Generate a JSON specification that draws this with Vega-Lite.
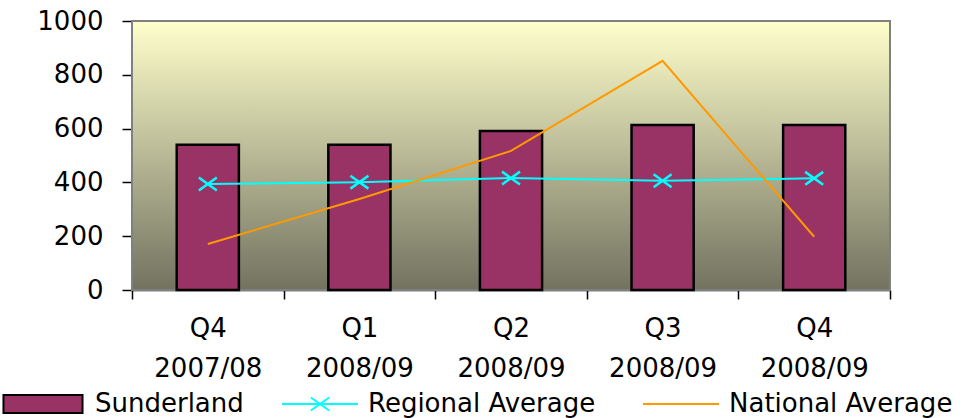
{
  "$schema": "https://vega.github.io/schema/vega-lite/v6.json",
  "autosize": {"type": "none"},
  "width": 758,
  "height": 269,
  "padding": {"left": 132, "top": 21, "right": 87, "bottom": 128},
  "background": "white",
  "config": {
    "view": {"stroke": null},
    "font": "DejaVu Sans",
    "axis": {
      "labelFont": "DejaVu Sans",
      "labelFontSize": 26,
      "labelColor": "black",
      "domainColor": "black",
      "domainWidth": 1.5,
      "tickColor": "black",
      "tickWidth": 1.5,
      "grid": false,
      "title": null,
      "zindex": 1
    },
    "legend": {
      "orient": "none",
      "direction": "horizontal",
      "title": null,
      "padding": 0,
      "symbolSize": 5776,
      "symbolStrokeWidth": 2,
      "labelFont": "DejaVu Sans",
      "labelFontSize": 26,
      "labelColor": "black",
      "labelLimit": 400,
      "legendY": 344
    }
  },
  "datasets": {
    "quarters": [
      {"quarter": "Q4 2007/08", "sunderland": 540, "regional": 394, "national": 171},
      {"quarter": "Q1 2008/09", "sunderland": 540, "regional": 401, "national": 338},
      {"quarter": "Q2 2008/09", "sunderland": 591, "regional": 416, "national": 517},
      {"quarter": "Q3 2008/09", "sunderland": 613, "regional": 406, "national": 852},
      {"quarter": "Q4 2008/09", "sunderland": 613, "regional": 415, "national": 198}
    ]
  },
  "layer": [
    {
      "data": {"values": [{"plot": "area"}]},
      "mark": {
        "type": "rect",
        "stroke": "#808080",
        "strokeWidth": 2,
        "fill": {
          "gradient": "linear",
          "x1": 0, "y1": 0, "x2": 0, "y2": 1,
          "stops": [
            {"offset": 0, "color": "#FFFFCC"},
            {"offset": 1, "color": "#727260"}
          ]
        }
      },
      "encoding": {
        "y": {"datum": 1000, "type": "quantitative"},
        "y2": {"datum": 0}
      }
    },
    {
      "data": {"name": "quarters"},
      "mark": {"type": "bar", "stroke": "black", "strokeWidth": 2.5, "width": {"band": 0.41}},
      "encoding": {
        "x": {
          "field": "quarter",
          "type": "nominal",
          "sort": null,
          "scale": {"paddingInner": 0, "paddingOuter": 0},
          "axis": {
            "labelAngle": 0,
            "labelExpr": "datum.value ? split(datum.value, ' ') : ''",
            "labelLineHeight": 40,
            "labelPadding": 16,
            "tickBand": "extent",
            "tickSize": 9,
            "labelBaseline": "top"
          }
        },
        "y": {
          "field": "sunderland",
          "type": "quantitative",
          "scale": {"domain": [0, 1000]},
          "axis": {
            "values": [0, 200, 400, 600, 800, 1000],
            "format": "d",
            "tickSize": 10,
            "labelPadding": 19
          }
        },
        "fill": {
          "datum": "Sunderland",
          "scale": {"domain": ["Sunderland"], "range": ["#993366"]},
          "legend": {
            "legendX": -128,
            "labelOffset": 13,
            "symbolType": "M-1.04,-0.24H1.04V0.24H-1.04Z",
            "symbolStrokeColor": "black",
            "symbolStrokeWidth": 2
          }
        }
      }
    },
    {
      "data": {"name": "quarters"},
      "mark": {"type": "line", "strokeWidth": 2},
      "encoding": {
        "x": {"field": "quarter", "type": "nominal", "sort": null},
        "y": {"field": "regional", "type": "quantitative"},
        "stroke": {
          "datum": "Regional Average",
          "scale": {"domain": ["Regional Average"], "range": ["#00FFFF"]},
          "legend": {
            "legendX": 149,
            "labelOffset": 9,
            "symbolType": "M-1,0H1M-0.24,-0.17L0.24,0.17M-0.24,0.17L0.24,-0.17",
            "symbolFillColor": "transparent",
            "symbolStrokeWidth": 2
          }
        }
      }
    },
    {
      "data": {"name": "quarters"},
      "mark": {
        "type": "point",
        "shape": "M-1,-0.72L1,0.72M-1,0.72L1,-0.72",
        "size": 324,
        "filled": false,
        "stroke": "#00FFFF",
        "strokeWidth": 2.5,
        "opacity": 1
      },
      "encoding": {
        "x": {"field": "quarter", "type": "nominal", "sort": null},
        "y": {"field": "regional", "type": "quantitative"}
      }
    },
    {
      "data": {"name": "quarters"},
      "mark": {"type": "line", "strokeWidth": 2},
      "encoding": {
        "x": {"field": "quarter", "type": "nominal", "sort": null},
        "y": {"field": "national", "type": "quantitative"},
        "color": {
          "datum": "National Average",
          "scale": {"domain": ["National Average"], "range": ["#FF9900"]},
          "legend": {
            "legendX": 510,
            "labelOffset": 9,
            "symbolType": "M-1,0H1",
            "symbolFillColor": "transparent",
            "symbolStrokeWidth": 2
          }
        }
      }
    }
  ]
}
